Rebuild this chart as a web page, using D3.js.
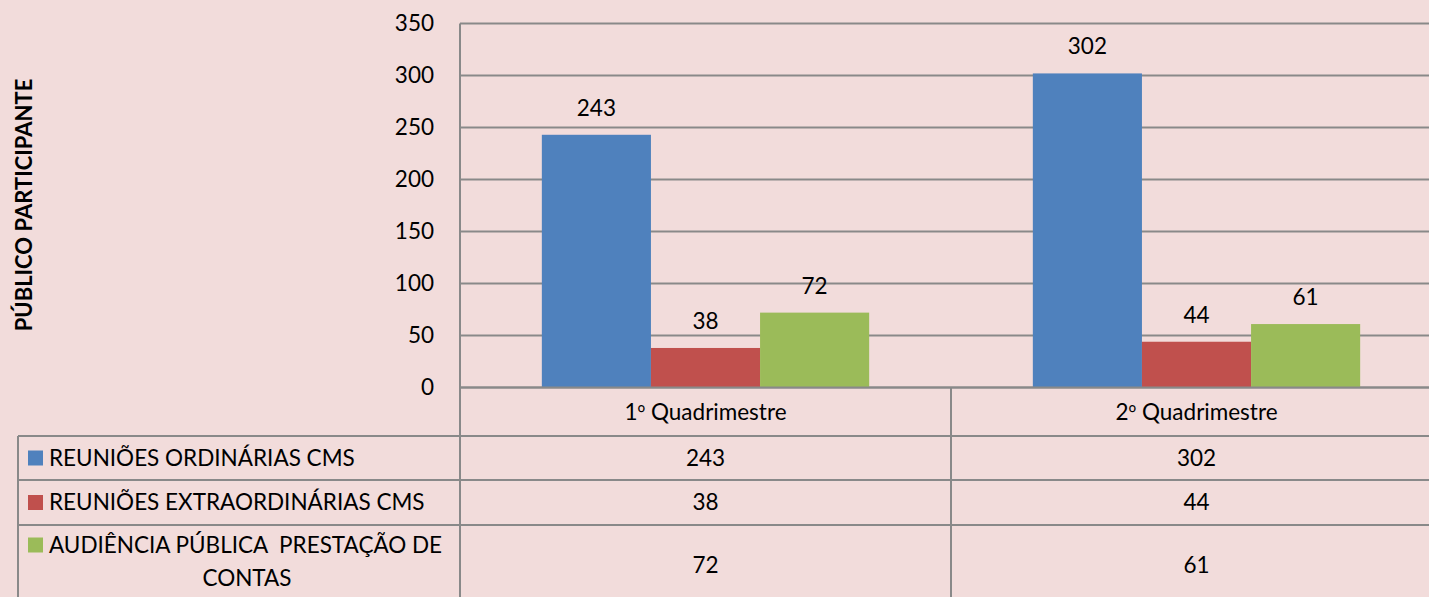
<!DOCTYPE html>
<html>
<head>
<meta charset="utf-8">
<script src="https://cdn.jsdelivr.net/npm/d3@7"></script>
<style>
  html, body { margin: 0; padding: 0; background: #f2dcdb; overflow: hidden; }
  svg { display: block; font-family: Lato, "Open Sans", sans-serif; }
</style>
</head>
<body>
<svg id="chart"></svg>
<script>
// data
const categories = ["1º Quadrimestre", "2º Quadrimestre"];
const seriesNames = ["REUNIÕES ORDINÁRIAS CMS", "REUNIÕES EXTRAORDINÁRIAS CMS", "AUDIÊNCIA PÚBLICA  PRESTAÇÃO DE CONTAS"];
const ordinarias = [243, 302];
const extraordinarias = [38, 44];
const audiencia = [72, 61];
const yTicks = [0, 50, 100, 150, 200, 250, 300, 350];
const colors = ["#4f81bd", "#c0504d", "#9bbb59"];
const yTitle = "PÚBLICO PARTICIPANTE";

const seriesValues = [ordinarias, extraordinarias, audiencia];

const W = 1429, H = 597;
const svg = d3.select("#chart").attr("width", W).attr("height", H);

const gridColor = "#898989";
const plotLeft = 460, plotRight = 1442;
const tableLeft = 18;
const fs = 22.5;

// scales
const y = d3.scaleLinear().domain([0, 350]).range([387.5, 23.5]);
const x0 = d3.scaleBand().domain(categories).range([plotLeft, plotRight]);
const x1 = d3.scaleBand().domain(seriesNames).range([0, x0.bandwidth()]).paddingOuter(0.75);

// gridlines
svg.append("g")
  .selectAll("line")
  .data(yTicks)
  .join("line")
  .attr("x1", plotLeft).attr("x2", W)
  .attr("y1", d => y(d)).attr("y2", d => y(d))
  .attr("stroke", gridColor).attr("stroke-width", 2);

// y tick labels
svg.append("g")
  .selectAll("text")
  .data(yTicks)
  .join("text")
  .attr("x", 434)
  .attr("y", d => y(d))
  .attr("dy", "0.35em")
  .attr("text-anchor", "end")
  .attr("font-size", fs)
  .attr("fill", "#000")
  .text(d => d);

// y title
svg.append("text")
  .attr("transform", "translate(32,205) rotate(-90)")
  .attr("text-anchor", "middle")
  .attr("font-size", 22)
  .attr("font-weight", "bold")
  .text(yTitle);

// bars
const flat = [];
categories.forEach((c, i) => {
  seriesNames.forEach((s, j) => flat.push({cat: c, ser: s, idx: j, v: seriesValues[j][i]}));
});

svg.append("g")
  .selectAll("rect")
  .data(flat)
  .join("rect")
  .attr("x", d => x0(d.cat) + x1(d.ser))
  .attr("y", d => y(d.v))
  .attr("width", x1.bandwidth())
  .attr("height", d => y(0) - y(d.v))
  .attr("fill", d => colors[d.idx]);

// value labels
svg.append("g")
  .selectAll("text")
  .data(flat)
  .join("text")
  .attr("x", d => x0(d.cat) + x1(d.ser) + x1.bandwidth() / 2)
  .attr("y", d => y(d.v) - 19)
  .attr("text-anchor", "middle")
  .attr("font-size", fs)
  .text(d => d.v);

// data table
const headerBottom = 436;
const rowBottoms = [480, 525, 620];
const rowTops = [headerBottom, 480, 525];

const tbl = svg.append("g").attr("stroke", gridColor).attr("stroke-width", 2);
// horizontal lines
[headerBottom, 480, 525].forEach(yy => {
  tbl.append("line").attr("x1", tableLeft).attr("x2", W).attr("y1", yy).attr("y2", yy);
});
tbl.append("line").attr("x1", plotLeft).attr("x2", W).attr("y1", y(0)).attr("y2", y(0));
// vertical lines
tbl.append("line").attr("x1", plotLeft).attr("x2", plotLeft).attr("y1", y(350)).attr("y2", H);
tbl.append("line").attr("x1", tableLeft).attr("x2", tableLeft).attr("y1", headerBottom).attr("y2", H);
categories.slice(1).forEach(c => {
  tbl.append("line").attr("x1", x0(c)).attr("x2", x0(c)).attr("y1", y(0)).attr("y2", H);
});

// header category labels (º from Noto Sans to keep the underline)
const hdr = svg.append("g")
  .selectAll("text")
  .data(categories)
  .join("text")
  .attr("x", d => x0(d) + x0.bandwidth() / 2)
  .attr("y", (y(0) + headerBottom) / 2)
  .attr("dy", "0.35em")
  .attr("text-anchor", "middle")
  .attr("font-size", fs);
hdr.each(function(d) {
  const parts = d.split("º");
  const t = d3.select(this);
  t.append("tspan").text(parts[0]);
  t.append("tspan").attr("font-family", "'Noto Sans'").attr("font-size", fs - 2).text("º");
  t.append("tspan").text(parts[1]);
});

// table values
svg.append("g")
  .selectAll("text")
  .data(flat)
  .join("text")
  .attr("x", d => x0(d.cat) + x0.bandwidth() / 2)
  .attr("y", d => d.idx < 2 ? (rowTops[d.idx] + rowBottoms[d.idx]) / 2 : 565)
  .attr("dy", "0.35em")
  .attr("text-anchor", "middle")
  .attr("font-size", fs)
  .text(d => d.v);

// legend cells
const leg = svg.append("g");
seriesNames.forEach((s, j) => {
  const cy = j < 2 ? (rowTops[j] + rowBottoms[j]) / 2 : 545;
  leg.append("rect")
    .attr("x", 28).attr("y", cy - 7.5)
    .attr("width", 15).attr("height", 15)
    .attr("fill", colors[j]);
  if (j < 2) {
    leg.append("text")
      .attr("x", 49).attr("y", cy).attr("dy", "0.35em")
      .attr("font-size", fs).text(s);
  } else {
    leg.append("text")
      .attr("x", 49).attr("y", cy).attr("dy", "0.35em")
      .attr("font-size", fs).attr("xml:space", "preserve")
      .text("AUDIÊNCIA PÚBLICA  PRESTAÇÃO DE");
    leg.append("text")
      .attr("x", 247).attr("y", 578).attr("dy", "0.35em")
      .attr("text-anchor", "middle")
      .attr("font-size", fs).text("CONTAS");
  }
});
</script>
</body>
</html>
